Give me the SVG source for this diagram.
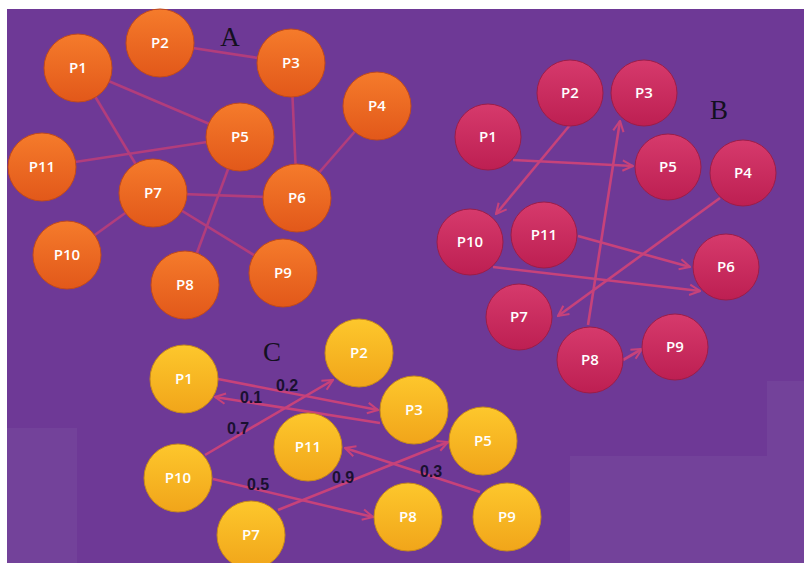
<svg xmlns="http://www.w3.org/2000/svg" width="804" height="563" viewBox="0 0 804 563">
<defs>
<linearGradient id="gO" x1="0" y1="0" x2="0" y2="1"><stop offset="0" stop-color="#f57b2b"/><stop offset="1" stop-color="#e2581a"/></linearGradient>
<linearGradient id="gR" x1="0" y1="0" x2="0" y2="1"><stop offset="0" stop-color="#d63a6c"/><stop offset="1" stop-color="#bd1f52"/></linearGradient>
<linearGradient id="gY" x1="0" y1="0" x2="0" y2="1"><stop offset="0" stop-color="#fdc72c"/><stop offset="1" stop-color="#f1a51a"/></linearGradient>
<marker id="ar" viewBox="0 0 10 10" refX="9" refY="5" markerWidth="5" markerHeight="5" orient="auto" markerUnits="strokeWidth">
<path d="M1,1 L9,5 L1,9" fill="none" stroke="#c7427a" stroke-width="1.6"/>
</marker>
</defs>
<style>
.e{stroke:#b23d7c;stroke-width:2.6;fill:none}
.a{stroke:#c7427a;stroke-width:2.6;fill:none;marker-end:url(#ar)}
.o{fill:url(#gO);stroke:#c24a1a;stroke-width:1}
.r{fill:url(#gR);stroke:#9c1d48;stroke-width:1}
.y{fill:url(#gY);stroke:#c88a1a;stroke-width:1}
.t{font-family:"Open Sans","Liberation Sans",Arial,sans-serif;font-weight:600;font-size:15px;fill:#ffffff;text-anchor:middle}
.g{font-family:"Liberation Serif","Times New Roman",serif;font-size:27px;fill:#141020;text-anchor:middle}
.w{font-family:"Liberation Sans",Arial,sans-serif;font-weight:bold;font-size:16px;fill:#1a1030;text-anchor:middle}
</style>
<rect x="0" y="0" width="804" height="563" fill="#ffffff"/>
<rect x="7" y="9" width="797" height="554" fill="#6e3996"/>
<rect x="7" y="428" width="70" height="135" fill="#73429a"/>
<rect x="570" y="456" width="234" height="107" fill="#73429a"/>
<rect x="767" y="381" width="37" height="75" fill="#73429a"/>

<g id="connectors">
<line class="e" x1="160" y1="43" x2="291" y2="63"/>
<line class="e" x1="78" y1="68" x2="240" y2="137"/>
<line class="e" x1="78" y1="68" x2="153" y2="193"/>
<line class="e" x1="42" y1="167" x2="240" y2="137"/>
<line class="e" x1="291" y1="63" x2="297" y2="198"/>
<line class="e" x1="377" y1="106" x2="297" y2="198"/>
<line class="e" x1="153" y1="193" x2="297" y2="198"/>
<line class="e" x1="240" y1="137" x2="185" y2="285"/>
<line class="e" x1="153" y1="193" x2="67" y2="255"/>
<line class="e" x1="153" y1="193" x2="283" y2="273"/>

<line class="a" x1="513" y1="160" x2="633" y2="166"/>
<line class="a" x1="570" y1="125" x2="496" y2="214"/>
<line class="a" x1="588" y1="325" x2="620" y2="121"/>
<line class="a" x1="720" y1="198" x2="558" y2="316"/>
<line class="a" x1="578" y1="236" x2="690" y2="267"/>
<line class="a" x1="493" y1="267" x2="700" y2="291"/>
<line class="a" x1="623" y1="360" x2="642" y2="349"/>

<line class="a" x1="218" y1="379" x2="378" y2="410"/>
<line class="a" x1="380" y1="423" x2="215" y2="397"/>
<line class="a" x1="205" y1="455" x2="333" y2="380"/>
<line class="a" x1="213" y1="479" x2="373" y2="517"/>
<line class="a" x1="278" y1="510" x2="448" y2="442"/>
<line class="a" x1="480" y1="492" x2="345" y2="448"/>
</g>

<text class="g" x="230" y="46">A</text>
<text class="g" x="719" y="119">B</text>
<text class="g" x="272" y="361">C</text>

<g id="A-P1"><circle class="o" cx="78" cy="68" r="34"/><text class="t" x="78" y="73">P1</text></g>
<g id="A-P2"><circle class="o" cx="160" cy="43" r="34"/><text class="t" x="160" y="48">P2</text></g>
<g id="A-P3"><circle class="o" cx="291" cy="63" r="34"/><text class="t" x="291" y="68">P3</text></g>
<g id="A-P4"><circle class="o" cx="377" cy="106" r="34"/><text class="t" x="377" y="111">P4</text></g>
<g id="A-P5"><circle class="o" cx="240" cy="137" r="34"/><text class="t" x="240" y="142">P5</text></g>
<g id="A-P11"><circle class="o" cx="42" cy="167" r="34"/><text class="t" x="42" y="172">P11</text></g>
<g id="A-P7"><circle class="o" cx="153" cy="193" r="34"/><text class="t" x="153" y="198">P7</text></g>
<g id="A-P6"><circle class="o" cx="297" cy="198" r="34"/><text class="t" x="297" y="203">P6</text></g>
<g id="A-P10"><circle class="o" cx="67" cy="255" r="34"/><text class="t" x="67" y="260">P10</text></g>
<g id="A-P8"><circle class="o" cx="185" cy="285" r="34"/><text class="t" x="185" y="290">P8</text></g>
<g id="A-P9"><circle class="o" cx="283" cy="273" r="34"/><text class="t" x="283" y="278">P9</text></g>

<g id="B-P2"><circle class="r" cx="570" cy="93" r="33"/><text class="t" x="570" y="98">P2</text></g>
<g id="B-P3"><circle class="r" cx="644" cy="93" r="33"/><text class="t" x="644" y="98">P3</text></g>
<g id="B-P1"><circle class="r" cx="488" cy="137" r="33"/><text class="t" x="488" y="142">P1</text></g>
<g id="B-P5"><circle class="r" cx="668" cy="167" r="33"/><text class="t" x="668" y="172">P5</text></g>
<g id="B-P4"><circle class="r" cx="743" cy="173" r="33"/><text class="t" x="743" y="178">P4</text></g>
<g id="B-P10"><circle class="r" cx="470" cy="242" r="33"/><text class="t" x="470" y="247">P10</text></g>
<g id="B-P11"><circle class="r" cx="544" cy="235" r="33"/><text class="t" x="544" y="240">P11</text></g>
<g id="B-P6"><circle class="r" cx="726" cy="267" r="33"/><text class="t" x="726" y="272">P6</text></g>
<g id="B-P7"><circle class="r" cx="519" cy="317" r="33"/><text class="t" x="519" y="322">P7</text></g>
<g id="B-P8"><circle class="r" cx="590" cy="360" r="33"/><text class="t" x="590" y="365">P8</text></g>
<g id="B-P9"><circle class="r" cx="675" cy="347" r="33"/><text class="t" x="675" y="352">P9</text></g>

<g id="C-P1"><circle class="y" cx="184" cy="379" r="34"/><text class="t" x="184" y="384">P1</text></g>
<g id="C-P2"><circle class="y" cx="359" cy="353" r="34"/><text class="t" x="359" y="358">P2</text></g>
<g id="C-P3"><circle class="y" cx="414" cy="410" r="34"/><text class="t" x="414" y="415">P3</text></g>
<g id="C-P11"><circle class="y" cx="308" cy="447" r="34"/><text class="t" x="308" y="452">P11</text></g>
<g id="C-P5"><circle class="y" cx="483" cy="441" r="34"/><text class="t" x="483" y="446">P5</text></g>
<g id="C-P10"><circle class="y" cx="178" cy="478" r="34"/><text class="t" x="178" y="483">P10</text></g>
<g id="C-P7"><circle class="y" cx="251" cy="535" r="34"/><text class="t" x="251" y="540">P7</text></g>
<g id="C-P8"><circle class="y" cx="408" cy="517" r="34"/><text class="t" x="408" y="522">P8</text></g>
<g id="C-P9"><circle class="y" cx="507" cy="517" r="34"/><text class="t" x="507" y="522">P9</text></g>

<g id="weights">
<text class="w" x="287" y="391">0.2</text>
<text class="w" x="251" y="403">0.1</text>
<text class="w" x="238" y="434">0.7</text>
<text class="w" x="258" y="490">0.5</text>
<text class="w" x="343" y="483">0.9</text>
<text class="w" x="431" y="477">0.3</text>
</g>
</svg>
